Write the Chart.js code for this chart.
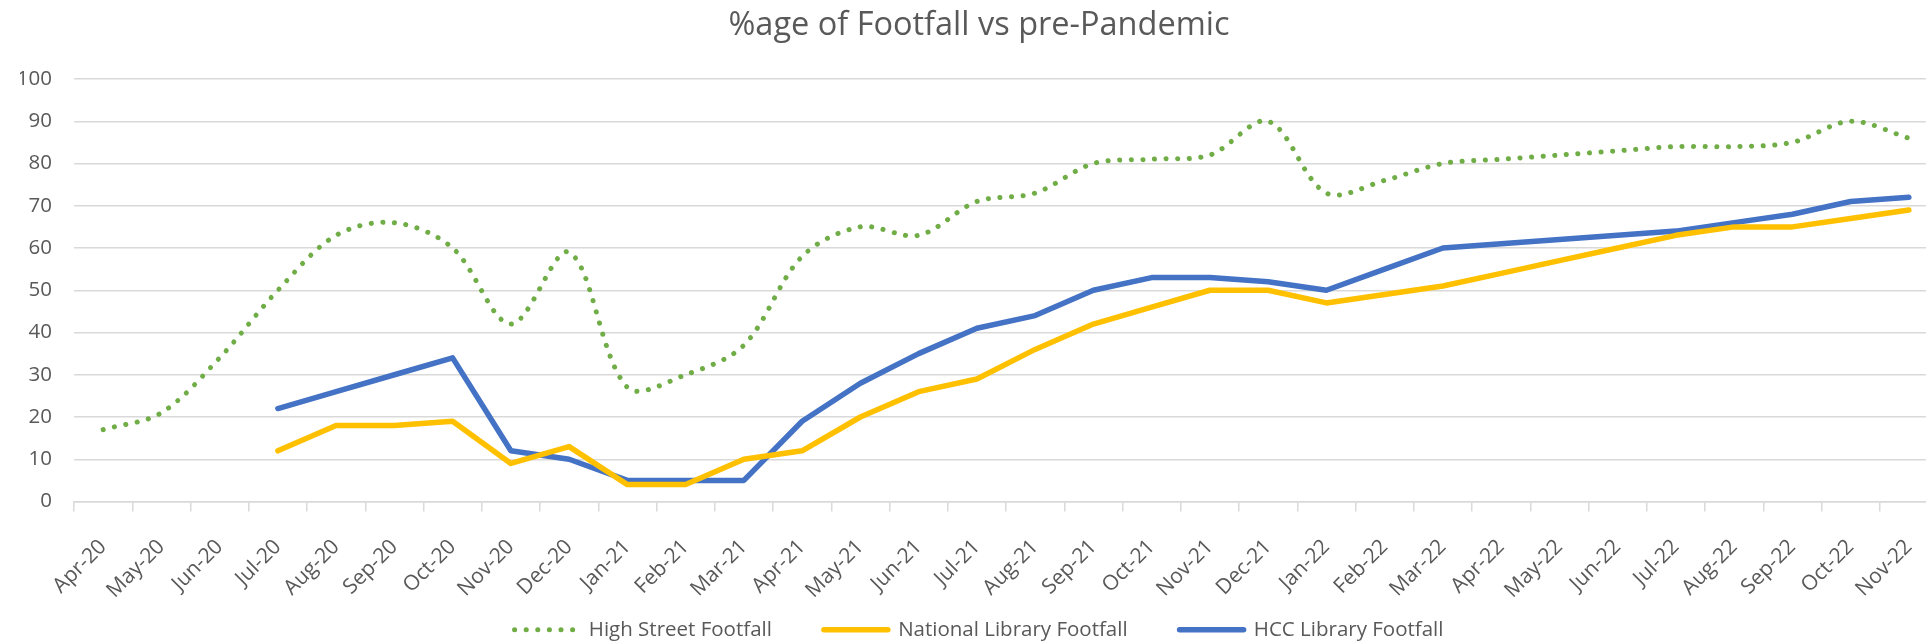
<!DOCTYPE html>
<html>
<head>
<meta charset="utf-8">
<title>%age of Footfall vs pre-Pandemic</title>
<script src="https://cdn.jsdelivr.net/npm/chart.js@4.4.1/dist/chart.umd.min.js"></script>
<style>
  html, body { margin: 0; padding: 0; background: #fff; overflow: hidden; }
</style>
</head>
<body>
<canvas id="footfallChart" width="1964" height="650"></canvas>
<script>
const months = ['Apr-20', 'May-20', 'Jun-20', 'Jul-20', 'Aug-20', 'Sep-20', 'Oct-20', 'Nov-20', 'Dec-20',
  'Jan-21', 'Feb-21', 'Mar-21', 'Apr-21', 'May-21', 'Jun-21', 'Jul-21', 'Aug-21', 'Sep-21', 'Oct-21', 'Nov-21', 'Dec-21',
  'Jan-22', 'Feb-22', 'Mar-22', 'Apr-22', 'May-22', 'Jun-22', 'Jul-22', 'Aug-22', 'Sep-22', 'Oct-22', 'Nov-22'];

const highStreet = [17, 21, 34, 50, 63, 66, 60, 42, 59,
  27, 30, 37, 58, 65, 63, 71, 73, 80, 81, 82, 90,
  73, 76, 80, 81, 82, 83, 84, 84, 85, 90, 86];

const nationalLibrary = [null, null, null, 12, 18, 18, 19, 9, 13,
  4, 4, 10, 12, 20, 26, 29, 36, 42, 46, 50, 50,
  47, 49, 51, 54, 57, 60, 63, 65, 65, 67, 69];

const hccLibrary = [null, null, null, 22, 26, 30, 34, 12, 10,
  5, 5, 5, 19, 28, 35, 41, 44, 50, 53, 53, 52,
  50, 55, 60, 61, 62, 63, 64, 66, 68, 71, 72];

const yTicks = [0, 10, 20, 30, 40, 50, 60, 70, 80, 90, 100];

(function () {
  const canvas = document.getElementById('footfallChart');
  if (!canvas || typeof Chart === 'undefined') return;

  const textColor = '#595959';
  const gridColor = '#d9d9d9';

  Chart.defaults.font.family = "'Open Sans', sans-serif";
  Chart.defaults.font.size = 20.5;
  Chart.defaults.color = textColor;

  new Chart(canvas.getContext('2d'), {
    type: 'line',
    data: {
      labels: months,
      datasets: [
        {
          label: 'High Street Footfall',
          data: highStreet,
          borderColor: '#70ad47',
          backgroundColor: '#70ad47',
          borderWidth: 5,
          borderDash: [0.1, 11.5],
          borderCapStyle: 'round',
          tension: 0.33,
          pointRadius: 0,
          fill: false
        },
        {
          label: 'National Library Footfall',
          data: nationalLibrary,
          borderColor: '#ffc000',
          backgroundColor: '#ffc000',
          borderWidth: 5.5,
          borderCapStyle: 'round',
          borderJoinStyle: 'round',
          tension: 0,
          pointRadius: 0,
          fill: false
        },
        {
          label: 'HCC Library Footfall',
          data: hccLibrary,
          borderColor: '#4472c4',
          backgroundColor: '#4472c4',
          borderWidth: 5.5,
          borderCapStyle: 'round',
          borderJoinStyle: 'round',
          tension: 0,
          pointRadius: 0,
          fill: false
        }
      ]
    },
    options: {
      responsive: false,
      animation: false,
      layout: { padding: { left: 20, right: 26, top: 6.5, bottom: 0 } },
      scales: {
        x: {
          offset: true,
          // keep the axis band short so the plot reaches down like the original;
          // the rotated labels are allowed to spill into the empty legend padding
          afterFit: (scale) => {
            scale.height = 66;
            scale.paddingLeft = 0;
            scale.paddingRight = 0;
            scale._computeLabelArea = () => undefined;
          },
          grid: {
            offset: true,
            drawOnChartArea: false,
            drawTicks: true,
            tickLength: 10,
            color: gridColor,
            lineWidth: 1.5
          },
          border: { display: true, color: gridColor, width: 1.5 },
          ticks: {
            autoSkip: false,
            minRotation: 45,
            maxRotation: 45,
            padding: 23,
            color: textColor,
            font: { size: 21 }
          }
        },
        y: {
          min: 0,
          max: 100,
          afterBuildTicks: (axis) => { axis.ticks = yTicks.map((v) => ({ value: v })); },
          afterFit: (scale) => { scale.width = 54; },
          grid: { color: gridColor, lineWidth: 1.5, drawTicks: false },
          border: { display: false },
          ticks: { padding: 22, color: textColor, font: { size: 20.5 } }
        }
      },
      plugins: {
        title: {
          display: true,
          text: '%age of Footfall vs pre-Pandemic',
          color: textColor,
          font: { size: 32.5, weight: 'normal' },
          padding: { top: 0, bottom: 33.5 }
        },
        legend: {
          position: 'bottom',
          labels: {
            usePointStyle: true,
            pointStyle: 'line',
            pointStyleWidth: 64,
            boxHeight: 20,
            padding: 52,
            color: textColor,
            generateLabels: (chart) => {
              const items = Chart.defaults.plugins.legend.labels.generateLabels(chart);
              items.forEach((item) => {
                const ds = chart.data.datasets[item.datasetIndex];
                item.lineDash = ds.borderDash || [];
                item.lineCap = ds.borderCapStyle || 'butt';
                item.lineWidth = ds.borderWidth;
                item.strokeStyle = ds.borderColor;
              });
              return items;
            }
          }
        },
        tooltip: { enabled: false }
      }
    }
  });
})();
</script>
</body>
</html>
